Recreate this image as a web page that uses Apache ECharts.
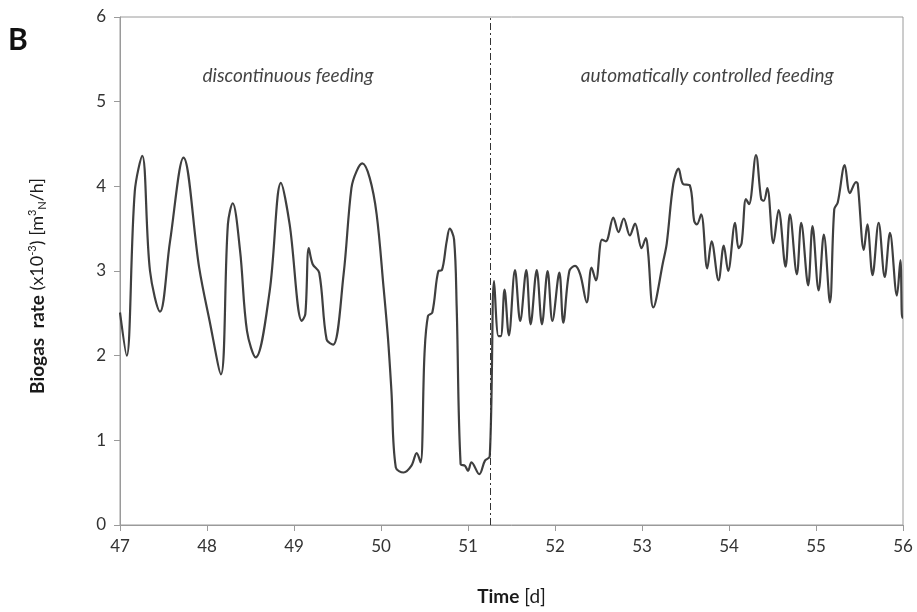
<!DOCTYPE html>
<html>
<head>
<meta charset="utf-8">
<script src="https://cdn.jsdelivr.net/npm/echarts@6/dist/echarts.min.js"></script>
<style>html,body{margin:0;padding:0;background:#fff}#c{width:917px;height:612px}</style>
</head>
<body>
<div id="c"></div>
<script>
const timeDays = [47.0,47.077,47.17,47.256,47.345,47.46,47.575,47.73,47.91,48.03,48.16,48.24,48.295,48.38,48.46,48.56,48.72,48.85,48.95,49.09,49.13,49.17,49.215,49.29,49.375,49.45,49.57,49.66,49.72,49.785,49.87,49.95,50.03,50.08,50.12,50.17,50.26,50.35,50.41,50.455,50.5,50.54,50.59,50.66,50.70,50.755,50.79,50.84,50.87,50.915,50.965,51.0,51.04,51.13,51.195,51.25,51.30,51.35,51.377,51.42,51.47,51.54,51.60,51.67,51.72,51.79,51.85,51.915,51.97,52.05,52.095,52.165,52.23,52.29,52.365,52.42,52.47,52.54,52.585,52.67,52.73,52.79,52.86,52.92,52.995,53.045,53.07,53.13,53.245,53.285,53.36,53.42,53.47,53.55,53.6,53.63,53.68,53.75,53.80,53.88,53.94,53.99,54.07,54.11,54.145,54.195,54.23,54.31,54.37,54.40,54.44,54.51,54.57,54.65,54.70,54.78,54.83,54.91,54.96,55.03,55.09,55.16,55.21,55.25,55.33,55.39,55.46,55.48,55.55,55.59,55.65,55.72,55.79,55.85,55.93,55.97,55.99,56.0];
const biogasRate = [2.51,2.0,3.94,4.36,3.0,2.52,3.35,4.34,3.04,2.41,1.78,3.55,3.80,3.24,2.29,1.98,2.76,4.04,3.55,2.41,2.49,3.27,3.08,2.98,2.19,2.13,2.96,3.98,4.18,4.27,4.10,3.67,2.80,2.21,1.58,0.68,0.62,0.70,0.85,0.74,2.02,2.47,2.51,3.0,3.01,3.35,3.50,3.37,2.57,0.72,0.70,0.64,0.74,0.60,0.76,0.81,2.88,2.23,2.23,2.78,2.24,3.01,2.41,3.01,2.37,3.01,2.37,3.0,2.41,2.98,2.39,3.0,3.06,2.96,2.63,3.04,2.89,3.37,3.35,3.63,3.46,3.62,3.42,3.56,3.27,3.39,3.22,2.57,3.12,3.33,4.03,4.21,4.03,4.01,3.59,3.55,3.67,3.03,3.35,2.89,3.30,3.0,3.57,3.27,3.33,3.85,3.79,4.37,3.85,3.83,3.98,3.33,3.72,3.05,3.67,2.96,3.57,2.83,3.53,2.77,3.43,2.63,3.73,3.81,4.25,3.92,4.05,4.03,3.25,3.55,2.95,3.57,2.93,3.45,2.71,3.13,2.45,2.45];
const xTicks = [47,48,49,50,51,52,53,54,55,56];
const yTicks = [0,1,2,3,4,5,6];
const feedingSwitchDay = 51.25;
const phaseLabels = ['discontinuous feeding','automatically controlled feeding'];
const phaseLabelPos = [[48.93, 5.3],[53.75, 5.3]];

const data = timeDays.map((t,i)=>[t, biogasRate[i]]);
const FONT = 'Lato, "Open Sans", sans-serif';
const chart = echarts.init(document.getElementById('c'), null, {renderer:'canvas'});
chart.setOption({
  backgroundColor:'#fff',
  animation:false,
  grid:{left:120,right:14,top:17,bottom:87,show:true,borderColor:'#9a9a9a',borderWidth:1,backgroundColor:'transparent'},
  xAxis:{type:'value',min:xTicks[0],max:xTicks[xTicks.length-1],interval:1,
    axisLine:{onZero:false,lineStyle:{color:'#9a9a9a',width:1}},
    axisTick:{show:true,inside:false,length:6,lineStyle:{color:'#9a9a9a'}},
    splitLine:{show:false},
    axisLabel:{color:'#333',fontSize:17,fontFamily:FONT,margin:13},
    name:'{b|Time} [d]',nameLocation:'middle',nameGap:62,
    nameTextStyle:{color:'#1a1a1a',fontSize:19,fontFamily:FONT,rich:{b:{fontWeight:'bold',fontSize:19,fontFamily:FONT,color:'#1a1a1a'}}}
  },
  yAxis:{type:'value',min:yTicks[0],max:yTicks[yTicks.length-1],interval:1,
    axisLine:{show:true,lineStyle:{color:'#9a9a9a',width:1}},
    axisTick:{show:true,inside:false,length:6,lineStyle:{color:'#9a9a9a'}},
    splitLine:{show:false},
    axisLabel:{color:'#333',fontSize:17,fontFamily:FONT,margin:14},
    name:'{b|Biogas  rate} (x10{sup|-3}) [m{sup|3}{sub|N}/h]',nameLocation:'middle',nameGap:72,nameRotate:90,
    nameTextStyle:{color:'#1a1a1a',fontSize:18,fontFamily:FONT,padding:[0,30,0,0],
      rich:{b:{fontWeight:'bold',fontSize:19,fontFamily:FONT,color:'#1a1a1a'},
            sup:{fontSize:11,fontFamily:FONT,color:'#1a1a1a',padding:[0,0,10,0]},
            sub:{fontSize:11,fontFamily:FONT,color:'#1a1a1a',padding:[10,0,0,0]}}}
  },
  series:[{
    type:'line',data:data,smooth:0.35,showSymbol:false,symbol:'none',
    lineStyle:{color:'#3f3f3f',width:2.2},
    markLine:{silent:true,symbol:['none','none'],label:{show:false},
      lineStyle:{color:'#333',width:1,type:[7,3,2,3]},
      data:[[{coord:[feedingSwitchDay,yTicks[0]]},{coord:[feedingSwitchDay,yTicks[yTicks.length-1]]}]]}
  },{
    type:'scatter',data:phaseLabels.map((s,i)=>({value:phaseLabelPos[i],name:s})),
    symbolSize:0,silent:true,
    label:{show:true,position:'inside',formatter:p=>p.name,fontStyle:'italic',fontSize:19,fontFamily:FONT,color:'#111'}
  }],
  graphic:[{type:'text',left:8,top:25,style:{text:'B',font:'bold 30px '+FONT,fill:'#111'}}]
});
</script>
</body>
</html>
